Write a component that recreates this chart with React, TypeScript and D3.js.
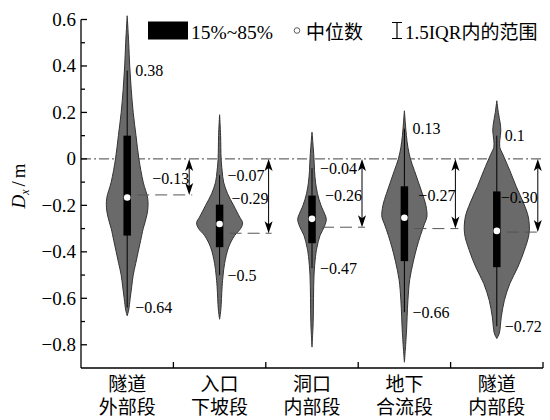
import * as d3 from "d3";

// categories (two-line labels)
const categories: string[][] = [
  ["隧道", "外部段"],
  ["入口", "下坡段"],
  ["洞口", "内部段"],
  ["地下", "合流段"],
  ["隧道", "内部段"],
];

// 15% / 85% quantiles, median
const q85 = [0.1, -0.197, -0.158, -0.118, -0.14];
const q15 = [-0.33, -0.38, -0.363, -0.44, -0.466];
const median = [-0.166, -0.28, -0.258, -0.253, -0.31];

// 1.5IQR whisker ends
const whiskerHi = [0.38, -0.07, -0.04, 0.13, 0.1];
const whiskerLo = [-0.64, -0.5, -0.47, -0.66, -0.72];

// offset annotations: label and the dashed level drawn
const diffLabel = [-0.13, -0.29, -0.26, -0.27, -0.3];
const diffLevel = [-0.155, -0.32, -0.294, -0.3, -0.315];

// violin density profiles: [value, density]
const violin1: [number, number][] = [
  [0.616, 0], [0.5, 0.15], [0.4, 0.25], [0.3, 0.4], [0.2, 0.6], [0.1, 0.88], [0, 1.17],
  [-0.1, 1.6], [-0.17, 2.05], [-0.22, 2.05], [-0.27, 1.8], [-0.3, 1.6], [-0.35, 1.35],
  [-0.4, 1.1], [-0.45, 0.85], [-0.5, 0.6], [-0.55, 0.45], [-0.6, 0.3], [-0.65, 0.15], [-0.675, 0],
];
const violin2: [number, number][] = [
  [0.19, 0], [0.1, 0.1], [0, 0.15], [-0.05, 0.25], [-0.1, 0.4], [-0.15, 0.8], [-0.2, 1.4],
  [-0.25, 2.0], [-0.275, 2.3], [-0.3, 2.1], [-0.33, 1.5], [-0.38, 0.9], [-0.45, 0.5],
  [-0.5, 0.35], [-0.55, 0.25], [-0.65, 0.12], [-0.69, 0],
];
const violin3: [number, number][] = [
  [0.115, 0], [0.05, 0.12], [0, 0.2], [-0.05, 0.25], [-0.1, 0.35], [-0.15, 0.55], [-0.2, 0.9],
  [-0.24, 1.3], [-0.26, 1.43], [-0.29, 1.25], [-0.33, 0.8], [-0.38, 0.5], [-0.42, 0.35],
  [-0.5, 0.2], [-0.6, 0.15], [-0.7, 0.12], [-0.81, 0],
];
const violin4: [number, number][] = [
  [0.207, 0], [0.15, 0.1], [0.1, 0.2], [0.05, 0.35], [0, 0.6], [-0.05, 1.0], [-0.1, 1.4],
  [-0.15, 1.8], [-0.2, 2.15], [-0.25, 2.25], [-0.28, 2.0], [-0.33, 1.6], [-0.38, 1.25],
  [-0.44, 0.9], [-0.52, 0.53], [-0.61, 0.35], [-0.75, 0.2], [-0.875, 0],
];
const violin5: [number, number][] = [
  [0.25, 0], [0.2, 0.15], [0.15, 0.35], [0.12, 0.4], [0.08, 0.3], [0.05, 0.3], [0.02, 0.6],
  [-0.05, 1.3], [-0.12, 1.95], [-0.19, 2.67], [-0.25, 3.15], [-0.32, 3.23], [-0.394, 2.75],
  [-0.466, 2.1], [-0.537, 1.3], [-0.61, 0.75], [-0.68, 0.45], [-0.75, 0.25], [-0.773, 0],
];
const profiles = [violin1, violin2, violin3, violin4, violin5];

const yTicks = [-0.8, -0.6, -0.4, -0.2, 0, 0.2, 0.4, 0.6];
const yMinor = [-0.7, -0.5, -0.3, -0.1, 0.1, 0.3, 0.5];

const arrowOffset = [62, 49, 50, 51, 41];

const SERIF = "'Liberation Serif', 'Times New Roman', serif";
const CJK = "'Liberation Serif', 'Noto Sans CJK SC', serif";
const VIOLIN = "#6a6a6a";

const fmt = (v: number) => String(v).replace("-", "\u2212");
const fmt2 = (v: number) => d3.format(".2f")(v);

export default function App() {
  const W = 550, H = 420;
  const x = d3.scaleBand<number>().domain(d3.range(categories.length)).range([81, 543]);
  const y = d3.scaleLinear().domain([-0.9, 0.6]).range([368, 19.5]);
  const ws = d3.scaleLinear().domain([0, 1]).range([0, 10]);
  const cx = (i: number) => (x(i) ?? 0) + x.bandwidth() / 2;
  const x0 = 81, x1 = 543, yb = y(-0.9);

  const yFmt = (d: number) => (d === 0 ? "0" : d3.format(".1f")(d));

  return (
    <svg width={W} height={H} style={{ position: "absolute", left: 0, top: 0, background: "#fff" }}>
      {/* zero line */}
      <line x1={x0} x2={x1} y1={y(0)} y2={y(0)} stroke="#444" strokeWidth={1} strokeDasharray="10 3 2 3" />

      {/* violins */}
      {profiles.map((p, i) => {
        const c = cx(i);
        const area = d3.area<[number, number]>()
          .y((d) => y(d[0]))
          .x0((d) => c - ws(d[1]))
          .x1((d) => c + ws(d[1]))
          .curve(d3.curveCatmullRom);
        return <path key={i} d={area(p) ?? ""} fill={VIOLIN} stroke="#333" strokeWidth={1} />;
      })}

      {/* dashed level lines */}
      {diffLevel.map((v, i) => (
        <line key={i} x1={cx(i) + 10} x2={cx(i) + arrowOffset[i] + 3} y1={y(v)} y2={y(v)}
          stroke="#555" strokeWidth={1} strokeDasharray="12 6" />
      ))}

      {/* whiskers, boxes, medians */}
      {categories.map((_, i) => {
        const c = cx(i);
        return (
          <g key={i}>
            <line x1={c} x2={c} y1={y(whiskerHi[i])} y2={y(whiskerLo[i])} stroke="#000" strokeWidth={1} />
            <rect x={c - 3.75} width={7.5} y={y(q85[i])} height={y(q15[i]) - y(q85[i])} fill="#000" />
            <circle cx={c} cy={y(median[i])} r={3.3} fill="#fff" />
          </g>
        );
      })}

      {/* arrows */}
      {diffLevel.map((v, i) => {
        const ax = cx(i) + arrowOffset[i];
        const t = y(0), b = y(v);
        return (
          <g key={i}>
            <line x1={ax} x2={ax} y1={t + 4} y2={b - 4} stroke="#000" strokeWidth={1} />
            <path d={`M${ax},${t} L${ax - 4},${t + 12} L${ax},${t + 9} L${ax + 4},${t + 12} Z`} fill="#000" />
            <path d={`M${ax},${b} L${ax - 4},${b - 12} L${ax},${b - 9} L${ax + 4},${b - 12} Z`} fill="#000" />
            <text x={ax} y={(t + b) / 2 + 2} textAnchor="end" dominantBaseline="central"
              fontFamily={SERIF} fontSize={16}>{fmt2(diffLabel[i])}</text>
          </g>
        );
      })}

      {/* whisker labels */}
      {categories.map((_, i) => (
        <g key={i} fontFamily={SERIF} fontSize={16}>
          <text x={cx(i) + 8} y={y(whiskerHi[i])} dominantBaseline="central">{fmt(whiskerHi[i])}</text>
          <text x={cx(i) + 8} y={y(whiskerLo[i])} dominantBaseline="central">{fmt(whiskerLo[i])}</text>
        </g>
      ))}

      {/* y axis */}
      <line x1={x0} x2={x0} y1={y(0.6)} y2={yb} stroke="#000" strokeWidth={1.3} />
      {yTicks.map((t) => (
        <g key={t}>
          <line x1={x0} x2={x0 + 6} y1={y(t)} y2={y(t)} stroke="#000" strokeWidth={1.3} />
          <text x={x0 - 5} y={y(t)} textAnchor="end" dominantBaseline="central"
            fontFamily={SERIF} fontSize={19}>{yFmt(t)}</text>
        </g>
      ))}
      {yMinor.map((t) => (
        <line key={t} x1={x0} x2={x0 + 4} y1={y(t)} y2={y(t)} stroke="#000" strokeWidth={1.3} />
      ))}

      {/* x axis */}
      <line x1={x0} x2={x1} y1={yb} y2={yb} stroke="#000" strokeWidth={1.3} />
      {categories.map((_, i) => {
        const bx = (x(i) ?? 0) + x.bandwidth();
        return <line key={i} x1={bx} x2={bx} y1={yb} y2={yb - 6} stroke="#000" strokeWidth={1.3} />;
      })}
      {categories.map((lines, i) => (
        <text key={i} x={cx(i)} textAnchor="middle" fontFamily={CJK} fontSize={19}>
          <tspan x={cx(i)} y={391}>{lines[0]}</tspan>
          <tspan x={cx(i)} y={414}>{lines[1]}</tspan>
        </text>
      ))}

      {/* y label */}
      <text transform={`translate(25,186) rotate(-90)`} textAnchor="middle" fontFamily={SERIF} fontSize={19}>
        <tspan fontStyle="italic">D</tspan>
        <tspan fontStyle="italic" fontSize={12} dy={4}>x</tspan>
        <tspan dy={-4} dx={3}>/</tspan>
        <tspan dx={3}>m</tspan>
      </text>

      {/* legend */}
      <rect x={148} y={21.5} width={40} height={18} fill="#000" />
      <text x={191} y={38.5} fontFamily={SERIF} fontSize={19.5}>15%~85%</text>
      <circle cx={297} cy={30.5} r={2.8} fill="#fff" stroke="#333" strokeWidth={0.8} />
      <text x={306} y={38.5} fontFamily={CJK} fontSize={19}>中位数</text>
      <path d="M392,22.5 H402 M397,22.5 V38.5 M392,38.5 H402" stroke="#000" strokeWidth={1.2} fill="none" />
      <text x={405} y={38.5} fontFamily={CJK} fontSize={19}>1.5IQR内的范围</text>
    </svg>
  );
}
